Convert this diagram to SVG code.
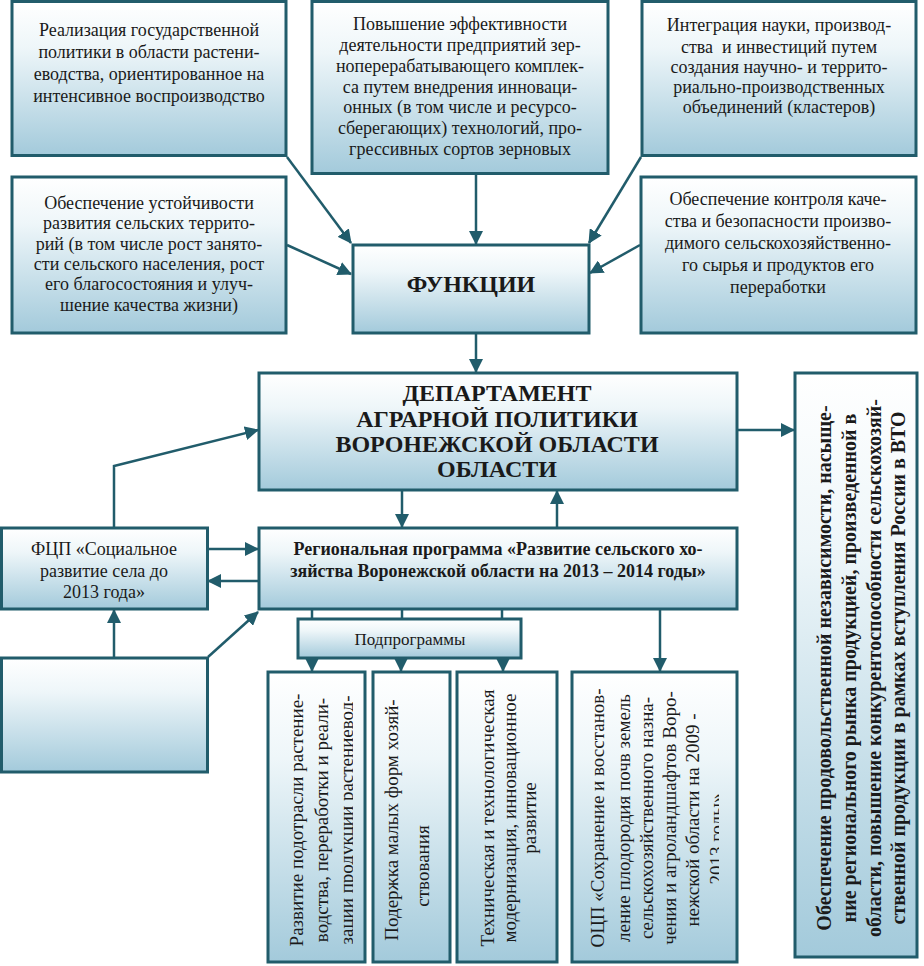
<svg xmlns="http://www.w3.org/2000/svg" width="924" height="966" viewBox="0 0 924 966" font-family="'Liberation Serif', 'Times New Roman', Times, 'DejaVu Serif', serif">
<defs>
<linearGradient id="g" x1="0" y1="0" x2="0" y2="1">
<stop offset="0" stop-color="#ffffff"/>
<stop offset="0.3" stop-color="#eef6f9"/>
<stop offset="1" stop-color="#a3cadb"/>
</linearGradient>
<marker id="ah" markerUnits="userSpaceOnUse" markerWidth="14" markerHeight="14" refX="13" refY="7" orient="auto">
<path d="M0,0 L14,7 L0,14 z" fill="#215c6b"/>
</marker>
<clipPath id="c1"><rect x="268" y="672" width="85" height="290"/></clipPath>
<clipPath id="c4"><rect x="572" y="672" width="147" height="290"/></clipPath>
</defs>
<style>
.b{fill:url(#g);stroke:#215c6b;stroke-width:3}
.t{font-family:'Liberation Serif','Times New Roman',Times,'DejaVu Serif',serif;font-size:18px;fill:#1a1a1a;text-anchor:middle}
.v{font-size:19px}
.bd{font-weight:bold}
.c{fill:none;stroke:#215c6b;stroke-width:2.5}
.a{marker-end:url(#ah)}
</style>
<rect width="924" height="966" fill="#ffffff"/>

<g id="connectors">
<line class="c a" x1="287" y1="157" x2="351" y2="243"/>
<line class="c a" x1="287" y1="245" x2="351" y2="274"/>
<line class="c a" x1="476" y1="174" x2="476" y2="244"/>
<line class="c a" x1="641" y1="157" x2="589" y2="243"/>
<line class="c a" x1="640" y1="245" x2="590" y2="273"/>
<line class="c a" x1="476" y1="334" x2="476" y2="372"/>
<line class="c a" x1="738" y1="430" x2="794" y2="430"/>
<polyline class="c a" points="114,527 114,466 258,430"/>
<line class="c a" x1="402" y1="491" x2="402" y2="527"/>
<line class="c a" x1="557" y1="527" x2="557" y2="491"/>
<line class="c a" x1="208" y1="549" x2="258" y2="549"/>
<line class="c a" x1="258" y1="581" x2="208" y2="581"/>
<line class="c a" x1="114" y1="657" x2="114" y2="610"/>
<line class="c a" x1="208" y1="657" x2="258" y2="612"/>
<line class="c" x1="312" y1="610" x2="312" y2="619"/>
<line class="c" x1="402" y1="610" x2="402" y2="619"/>
<line class="c" x1="502" y1="610" x2="502" y2="619"/>
<line class="c a" x1="312" y1="659" x2="312" y2="671"/>
<line class="c a" x1="401" y1="659" x2="401" y2="671"/>
<line class="c a" x1="503" y1="659" x2="503" y2="671"/>
<line class="c a" x1="660" y1="610" x2="660" y2="671"/>
</g>

<g id="n-top-left">
<rect class="b" x="12" y="1.5" width="274" height="154"/>
<text class="t" x="149" y="36">Реализация государственной</text>
<text class="t" x="149" y="58">политики в области растени-</text>
<text class="t" x="149" y="80">еводства, ориентированное на</text>
<text class="t" x="149" y="102">интенсивное воспроизводство</text>
</g>

<g id="n-top-center">
<rect class="b" x="312" y="1.5" width="296" height="172"/>
<text class="t" x="460" y="30">Повышение эффективности</text>
<text class="t" x="460" y="51">деятельности предприятий зер-</text>
<text class="t" x="460" y="72">ноперерабатывающего комплек-</text>
<text class="t" x="460" y="93">са путем внедрения инноваци-</text>
<text class="t" x="460" y="113">онных (в том числе и ресурсо-</text>
<text class="t" x="460" y="134">сберегающих) технологий, про-</text>
<text class="t" x="460" y="155">грессивных сортов зерновых</text>
</g>

<g id="n-top-right">
<rect class="b" x="642" y="1.5" width="274" height="154"/>
<text class="t" x="779" y="31">Интеграция науки, производ-</text>
<text class="t" x="779" y="53" xml:space="preserve">ства  и инвестиций путем</text>
<text class="t" x="779" y="73">создания научно- и террито-</text>
<text class="t" x="779" y="93">риально-производственных</text>
<text class="t" x="779" y="113">объединений (кластеров)</text>
</g>

<g id="n-mid-left">
<rect class="b" x="12" y="177" width="274" height="156"/>
<text class="t" x="149" y="209">Обеспечение устойчивости</text>
<text class="t" x="149" y="229">развития сельских террито-</text>
<text class="t" x="149" y="250">рий (в том числе рост занято-</text>
<text class="t" x="149" y="270">сти сельского населения, рост</text>
<text class="t" x="149" y="290">его благосостояния и улуч-</text>
<text class="t" x="149" y="311">шение качества жизни)</text>
</g>

<g id="n-functions">
<rect class="b" x="353" y="245" width="236" height="88"/>
<text class="t bd" x="471" y="292" style="font-size:24px">ФУНКЦИИ</text>
</g>

<g id="n-mid-right">
<rect class="b" x="641" y="177" width="275" height="156"/>
<text class="t" x="778" y="205">Обеспечение контроля каче-</text>
<text class="t" x="778" y="227">ства и безопасности произво-</text>
<text class="t" x="778" y="249">димого сельскохозяйственно-</text>
<text class="t" x="778" y="271">го сырья и продуктов его</text>
<text class="t" x="778" y="293">переработки</text>
</g>

<g id="n-department">
<rect class="b" x="259" y="373" width="478" height="117"/>
<text class="t bd" x="497" y="401" style="font-size:24px">ДЕПАРТАМЕНТ</text>
<text class="t bd" x="497" y="427" style="font-size:24px">АГРАРНОЙ ПОЛИТИКИ</text>
<text class="t bd" x="497" y="452" style="font-size:24px">ВОРОНЕЖСКОЙ ОБЛАСТИ</text>
<text class="t bd" x="497" y="477" style="font-size:24px">ОБЛАСТИ</text>
</g>

<g id="n-right">
<rect class="b" x="795" y="373" width="122" height="584"/>
<g class="t bd" style="font-size:20px">
<text transform="translate(831,668) rotate(-90)">Обеспечение продовольственной независимости, насыще-</text>
<text transform="translate(856,668) rotate(-90)">ние регионального рынка продукцией, произведенной в</text>
<text transform="translate(881,668) rotate(-90)">области, повышение конкурентоспособности сельскохозяй-</text>
<text transform="translate(905,668) rotate(-90)">ственной продукции в рамках вступления России в ВТО</text>
</g>
</g>

<g id="n-fcp">
<rect class="b" x="1.5" y="528" width="206" height="81"/>
<text class="t" x="104" y="555">ФЦП «Социальное</text>
<text class="t" x="104" y="577">развитие села до</text>
<text class="t" x="104" y="598">2013 года»</text>
</g>

<g id="n-regional">
<rect class="b" x="259" y="528" width="478" height="81"/>
<text class="t bd" x="498" y="555">Региональная программа «Развитие сельского хо-</text>
<text class="t bd" x="498" y="577">зяйства Воронежской области на 2013 – 2014 годы»</text>
</g>

<g id="n-empty">
<rect class="b" x="1.5" y="658" width="206" height="114"/>
</g>

<g id="n-subprograms">
<rect class="b" x="298" y="619" width="223" height="39"/>
<text class="t" x="410" y="645" style="font-size:17px">Подпрограммы</text>
</g>

<g id="n-sub1">
<rect class="b" x="268" y="672" width="97" height="290"/>
<g class="t v" clip-path="url(#c1)">
<text transform="translate(303,820) rotate(-90)">Развитие подотрасли растение-</text>
<text transform="translate(328,820) rotate(-90)">водства, переработки и реали-</text>
<text transform="translate(353,820) rotate(-90)">зации продукции растениевод-</text>
</g>
</g>

<g id="n-sub2">
<rect class="b" x="373" y="672" width="77" height="290"/>
<g class="t v">
<text transform="translate(398,820) rotate(-90)">Подержка малых форм хозяй-</text>
<text transform="translate(429,866) rotate(-90)">ствования</text>
</g>
</g>

<g id="n-sub3">
<rect class="b" x="457" y="672" width="100" height="290"/>
<g class="t v">
<text transform="translate(494,818) rotate(-90)">Техническая и технологическая</text>
<text transform="translate(516,818) rotate(-90)">модернизация, инновационное</text>
<text transform="translate(536,818) rotate(-90)">развитие</text>
</g>
</g>

<g id="n-ocp">
<rect class="b" x="572" y="672" width="165" height="290"/>
<g class="t v" clip-path="url(#c4)">
<text transform="translate(604,818) rotate(-90)">ОЦП «Сохранение и восстанов-</text>
<text transform="translate(630,818) rotate(-90)">ление плодородия почв земель</text>
<text transform="translate(653,818) rotate(-90)">сельскохозяйственного назна-</text>
<text transform="translate(676,818) rotate(-90)">чения и агроландшафтов Воро-</text>
<text transform="translate(699,820) rotate(-90)">нежской области на 2009 -</text>
<text transform="translate(723,839) rotate(-90)">2013 годы»</text>
</g>
</g>
</svg>
